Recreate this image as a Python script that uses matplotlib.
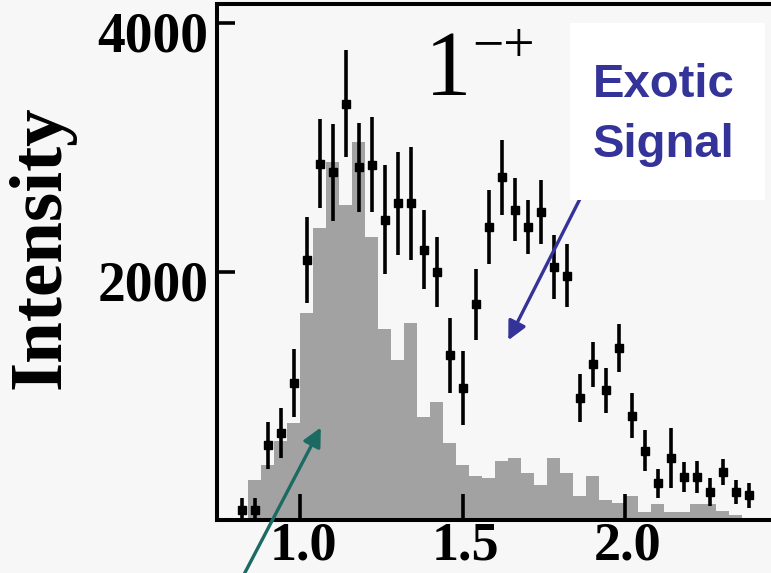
"""
Exotic 1-+ wave: intensity spectrum vs mass
Histogram (background) with data points and error bars
"""

# ============================================================
# Import Libraries
# ============================================================
import numpy as np
import matplotlib
matplotlib.use('Agg')
import matplotlib.pyplot as plt
import matplotlib.transforms as mtransforms
from matplotlib.patches import Rectangle

# ============================================================
# Data
# ============================================================

# bin centers (GeV)
bin_centers = [0.82, 0.86, 0.90, 0.94, 0.98, 1.02, 1.06, 1.10, 1.14, 1.18,
               1.22, 1.26, 1.30, 1.34, 1.38, 1.42, 1.46, 1.50, 1.54, 1.58,
               1.62, 1.66, 1.70, 1.74, 1.78, 1.82, 1.86, 1.90, 1.94, 1.98,
               2.02, 2.06, 2.10, 2.14, 2.18, 2.22, 2.26, 2.30, 2.34, 2.38]

# grey histogram
hist_values = [0, 330, 450, 640, 790, 1670, 2350, 2880, 2540, 3040,
               2280, 1540, 1290, 1590, 840, 960, 630, 450, 360, 350,
               480, 510, 390, 290, 510, 390, 200, 360, 170, 150,
               200, 75, 140, 75, 75, 140, 140, 85, 50, 0]

# data points with errors
point_values = [90, 90, 610, 710, 1110, 2100, 2870, 2800, 3350, 2840,
                2860, 2420, 2550, 2550, 2180, 2000, 1330, 1070, 1740, 2360,
                2760, 2500, 2360, 2480, 2040, 1970, 990, 1260, 1050, 1390,
                845, 565, 305, 510, 355, 355, 235, 395, 235, 210]
point_errors = [95, 95, 190, 200, 270, 345, 357, 390, 430, 357,
                380, 440, 410, 450, 315, 280, 300, 295, 285, 300,
                300, 255, 215, 255, 255, 255, 195, 180, 180, 195,
                180, 165, 115, 240, 120, 130, 115, 105, 95, 100]

x_ticks = [1.0, 1.5, 2.0]
x_tick_labels = ['1.0', '1.5', '2.0']
y_ticks = [2000, 4000]
y_tick_labels = ['2000', '4000']

# ============================================================
# Style
# ============================================================
W, H, DPI = 771, 573, 100
BG = '#f7f7f7'
GREY = '#a2a2a2'
BLUE = '#333399'
TEAL = '#1b6b62'
SERIF = ['Liberation Serif', 'DejaVu Serif']
SANS = ['Liberation Sans', 'DejaVu Sans']


def fx(px):
    return px / W


def fy(py):
    return 1 - py / H


fig = plt.figure(figsize=(W / DPI, H / DPI), dpi=DPI, facecolor=BG)

# axes box in pixels: left spine 217, top 4, bottom 520, right runs off the image
ax = fig.add_axes([fx(217), fy(520), 564 / W, 516 / H])
ax.set_facecolor(BG)

# ============================================================
# Draw
# ============================================================
ax.bar(bin_centers, hist_values, width=0.04, color=GREY, linewidth=0, zorder=1)
ax.errorbar(bin_centers, point_values, yerr=point_errors, fmt='s', ms=5.5,
            color='black', ecolor='black', elinewidth=2.6, capsize=0, zorder=3)

ax.set_xlim(0.7446, 2.48)
ax.set_ylim(10, 4150)

for side in ['left', 'bottom', 'top']:
    ax.spines[side].set_linewidth(2.9)
ax.spines['right'].set_visible(False)

ax.set_xticks(x_ticks)
ax.set_xticklabels(x_tick_labels, family=SERIF, weight='bold', fontsize=39)
ax.set_yticks(y_ticks)
ax.set_yticklabels(y_tick_labels, family=SERIF, weight='bold', fontsize=40)
ax.tick_params(axis='x', direction='in', length=19, width=2.6, pad=1)
ax.tick_params(axis='y', direction='in', length=13, width=2.6, pad=6)

# y labels sit a bit below their ticks in the original
down = mtransforms.ScaledTranslation(0, -9 / DPI, fig.dpi_scale_trans)
for lab in ax.get_yticklabels():
    lab.set_transform(lab.get_transform() + down)
right = mtransforms.ScaledTranslation(3 / DPI, 0, fig.dpi_scale_trans)
for lab in ax.get_xticklabels():
    lab.set_transform(lab.get_transform() + right)

fig.text(fx(41), fy(247), 'Intensity', rotation=90, ha='center', va='center',
         family=SERIF, weight='bold', fontsize=54)

# 1-+ label (superscript placed just after the advance of the "1")
fig.text(fx(425), fy(95), '1', ha='left', va='baseline', family=SERIF, fontsize=67)
fig.text(fx(472), fy(62), '\u2212+', ha='left', va='baseline', family=SERIF, fontsize=40)

# white box behind "Exotic Signal"
fig.patches.append(Rectangle((fx(570), fy(200)), (765 - 570) / W, (200 - 23) / H,
                             transform=fig.transFigure, facecolor='white',
                             edgecolor='none', zorder=0.5))
fig.text(fx(664), fy(97), 'Exotic', ha='center', va='baseline', family=SANS,
         weight='bold', fontsize=34, color=BLUE)
fig.text(fx(664), fy(157), 'Signal', ha='center', va='baseline', family=SANS,
         weight='bold', fontsize=34, color=BLUE)

# arrows
ax.annotate('', xy=(1.637, 1432), xytext=(1.886, 2713),
            arrowprops=dict(arrowstyle='-|>', color=BLUE, lw=2.4, mutation_scale=28),
            annotation_clip=False, zorder=5)
ax.annotate('', xy=(1.068, 772), xytext=(0.825, -440),
            arrowprops=dict(arrowstyle='-|>', color=TEAL, lw=2.4, mutation_scale=28),
            annotation_clip=False, zorder=5)

plt.savefig('out.png', dpi=DPI, facecolor=BG)
plt.close()
print("Saved: out.png")
